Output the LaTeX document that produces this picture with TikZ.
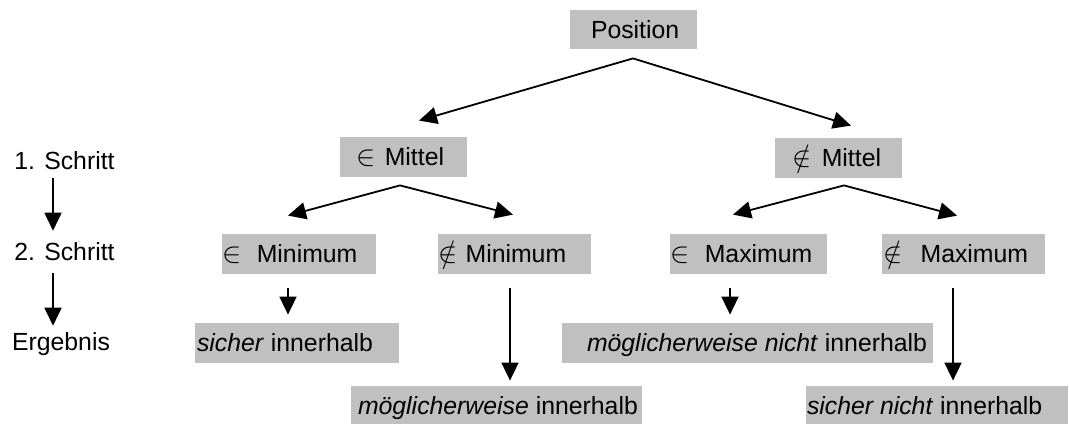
\documentclass[tikz,border=0pt]{standalone}
\usepackage{fontspec}
\setmainfont{Liberation Sans}
\usetikzlibrary{arrows.meta}
\definecolor{boxgray}{RGB}{192,192,192}
\newcommand{\bxt}[3]{\makebox[#1][l]{\hspace{#2}\rule{0pt}{8.9pt}\smash{#3}}}
\newcommand{\ein}{{\fontsize{13.5pt}{14pt}\selectfont$\in$}}
\newcommand{\nein}{{\fontsize{13.5pt}{14pt}\selectfont$\notin$}}
\begin{document}
\begin{tikzpicture}[x=0.5pt,y=-0.5pt,
  every node/.style={font=\fontsize{12.4pt}{15pt}\selectfont},
  graybox/.style={fill=boxgray,inner sep=0pt,minimum height=20pt},
  plain/.style={inner sep=0pt},
  arr/.style={-{Triangle[length=9pt,width=8.5pt]},line width=0.9pt}]
\useasboundingbox (0,0) rectangle (1069,423);
% boxes
\node[graybox,minimum height=19.5pt] (pos) at (633.5,29.5) {\bxt{63.5pt}{10.5pt}{Position}};
\node[graybox] (emit) at (403.5,157) {\bxt{63.5pt}{8.2pt}{\ein\hspace{4.6pt}Mittel}};
\node[graybox] (nmit) at (838.5,158) {\bxt{63.5pt}{8.7pt}{\nein\hspace{5.1pt}Mittel}};
\node[graybox] (emin) at (299,254) {\bxt{77pt}{0.3pt}{\ein\hspace{7.5pt}Minimum}};
\node[graybox] (nmin) at (514.5,254) {\bxt{76.5pt}{0pt}{\nein\hspace{4.2pt}Minimum}};
\node[graybox] (emax) at (748.5,254) {\bxt{78.5pt}{0.3pt}{\ein\hspace{7.5pt}Maximum}};
\node[graybox] (nmax) at (963.5,254) {\bxt{81.5pt}{0.7pt}{\nein\hspace{9pt}Maximum}};
\node[graybox] (sin) at (297,343) {\bxt{102pt}{1pt}{\textit{sicher} innerhalb}};
\node[graybox] (mi) at (496.5,406) {\bxt{145.5pt}{3.5pt}{\textit{möglicherweise} innerhalb}};
\node[graybox] (mni) at (747.5,343) {\bxt{185.5pt}{12.5pt}{\textit{möglicherweise nicht} innerhalb}};
\node[graybox] (sni) at (937,406) {\bxt{131pt}{0.5pt}{\textit{sicher nicht} innerhalb}};
% left column
\node[plain] (s1) at (64.5,161) {\rule{0pt}{8.9pt}\smash{1. Schritt}};
\node[plain] (s2) at (64.5,252) {\rule{0pt}{8.9pt}\smash{2. Schritt}};
\node[plain] (erg) at (61,342) {\rule{0pt}{8.9pt}\smash{Ergebnis}};
% connector points
\coordinate (a0) at ([shift={(-0.5,9)}]pos.south);
\coordinate (a1) at ([shift={(15.5,-16)}]emit.north);
\coordinate (a2) at ([shift={(12.5,-12)}]nmit.north);
\coordinate (b0) at ([shift={(-3.5,8)}]emit.south);
\coordinate (b1) at ([shift={(-11,-18)}]emin.north);
\coordinate (b2) at ([shift={(-1.5,-19)}]nmin.north);
\coordinate (c0) at ([shift={(5.5,7)}]nmit.south);
\coordinate (c1) at ([shift={(-15.5,-19)}]emax.north);
\coordinate (c2) at ([shift={(-6.5,-18)}]nmax.north);
\coordinate (d1) at ([shift={(-11,14)}]emin.south);
\coordinate (d2) at ([shift={(-4.5,14)}]nmin.south);
\coordinate (d3) at ([shift={(-18.5,14)}]emax.south);
\coordinate (d4) at ([shift={(-10.5,14)}]nmax.south);
\coordinate (l1) at ([shift={(-11.5,8)}]s1.south);
\coordinate (l2) at ([shift={(-11.5,12)}]s2.south);
% connectors
\draw[arr] (a0) -- (a1);
\draw[arr] (a0) -- (a2);
\draw[arr] (b0) -- (b1);
\draw[arr] (b0) -- (b2);
\draw[arr] (c0) -- (c1);
\draw[arr] (c0) -- (c2);
\draw[arr,shorten >=4pt] (d1) -- (d1 |- sin.north);
\draw[arr,shorten >=2.5pt] (d2) -- (d2 |- mi.north);
\draw[arr,shorten >=4pt] (d3) -- (d3 |- mni.north);
\draw[arr,shorten >=2.5pt] (d4) -- (d4 |- sni.north);
\draw[arr,shorten >=6pt] (l1) -- (l1 |- s2.north);
\draw[arr,shorten >=3.5pt] (l2) -- (l2 |- erg.north);
\end{tikzpicture}
\end{document}
